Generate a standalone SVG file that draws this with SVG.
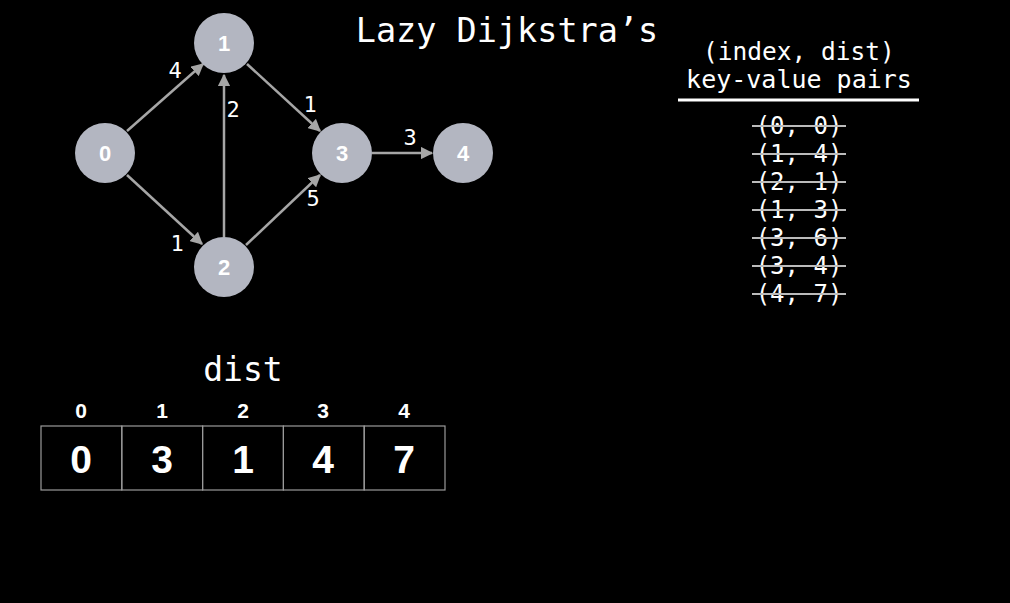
<svg xmlns="http://www.w3.org/2000/svg" width="1010" height="603" viewBox="0 0 1010 603">
<style>
.node{fill:#b3b6c1}
.nl{font-family:"Liberation Sans",Arial,sans-serif;font-weight:bold;font-size:22px;fill:#fff;text-anchor:middle}
.edge{stroke:#a6a6a6;stroke-width:2.5;fill:none;marker-end:url(#ah)}
.el{font-family:"DejaVu Sans Mono",monospace;font-size:22px;fill:#fff;text-anchor:middle}
.mono{font-family:"DejaVu Sans Mono",monospace;fill:#fff;text-anchor:middle}
.pair{font-family:"DejaVu Sans Mono",monospace;font-size:24px;fill:#fff;text-anchor:middle}
.strike{stroke:#bbb;stroke-width:2}
.cell{fill:none;stroke:#9a9a9a;stroke-width:1.2}
.idx{font-family:"Liberation Sans",Arial,sans-serif;font-weight:bold;font-size:21px;fill:#fff;text-anchor:middle}
.val{font-family:"Liberation Sans",Arial,sans-serif;font-weight:bold;font-size:39px;fill:#fff;text-anchor:middle}
</style>
<defs>
<marker id="ah" viewBox="0 0 10 10" refX="9" refY="5" markerWidth="5" markerHeight="5" orient="auto" markerUnits="strokeWidth">
<path d="M0,0 L10,5 L0,10 z" fill="#a6a6a6"/>
</marker>
</defs>
<rect width="1010" height="603" fill="#000"/>
<g id="connectors">
<line class="edge" x1="127" y1="131" x2="203" y2="64"/>
<line class="edge" x1="247" y1="64" x2="320" y2="131"/>
<line class="edge" x1="224" y1="237" x2="224" y2="75"/>
<line class="edge" x1="127" y1="175" x2="202" y2="244"/>
<line class="edge" x1="246" y1="245" x2="320" y2="175"/>
<line class="edge" x1="372" y1="153" x2="432" y2="153"/>
<text class="el" x="175" y="78">4</text>
<text class="el" x="310" y="112">1</text>
<text class="el" x="233" y="117">2</text>
<text class="el" x="177" y="251">1</text>
<text class="el" x="313" y="206">5</text>
<text class="el" x="410" y="145">3</text>
</g>
<g id="node0"><circle class="node" cx="105" cy="153" r="30"/><text class="nl" x="105" y="161">0</text></g>
<g id="node1"><circle class="node" cx="224" cy="43" r="30"/><text class="nl" x="224" y="51">1</text></g>
<g id="node2"><circle class="node" cx="224" cy="267" r="30"/><text class="nl" x="224" y="275">2</text></g>
<g id="node3"><circle class="node" cx="342" cy="153" r="30"/><text class="nl" x="342" y="161">3</text></g>
<g id="node4"><circle class="node" cx="463" cy="153" r="30"/><text class="nl" x="463" y="161">4</text></g>
<text class="mono" x="507" y="42" font-size="33.5">Lazy Dijkstra’s</text>
<g id="pairs">
<text class="mono" x="799" y="60" font-size="24.5">(index, dist)</text>
<text class="mono" x="799" y="88" font-size="25">key-value pairs</text>
<line x1="678" y1="100" x2="919" y2="100" stroke="#fff" stroke-width="3"/>
<text class="pair" x="799" y="134">(0, 0)</text>
<text class="pair" x="799" y="162">(1, 4)</text>
<text class="pair" x="799" y="190">(2, 1)</text>
<text class="pair" x="799" y="218">(1, 3)</text>
<text class="pair" x="799" y="246">(3, 6)</text>
<text class="pair" x="799" y="274">(3, 4)</text>
<text class="pair" x="799" y="302">(4, 7)</text>
<line class="strike" x1="752" y1="126" x2="846" y2="126"/>
<line class="strike" x1="752" y1="154" x2="846" y2="154"/>
<line class="strike" x1="752" y1="182" x2="846" y2="182"/>
<line class="strike" x1="752" y1="210" x2="846" y2="210"/>
<line class="strike" x1="752" y1="238" x2="846" y2="238"/>
<line class="strike" x1="752" y1="266" x2="846" y2="266"/>
<line class="strike" x1="752" y1="294" x2="846" y2="294"/>
</g>
<g id="dist">
<text class="mono" x="243" y="381" font-size="33">dist</text>
<text class="idx" x="81" y="418">0</text>
<text class="idx" x="162" y="418">1</text>
<text class="idx" x="243" y="418">2</text>
<text class="idx" x="323" y="418">3</text>
<text class="idx" x="404" y="418">4</text>
<rect class="cell" x="41" y="426" width="80.8" height="64"/>
<rect class="cell" x="121.8" y="426" width="80.8" height="64"/>
<rect class="cell" x="202.6" y="426" width="80.8" height="64"/>
<rect class="cell" x="283.4" y="426" width="80.8" height="64"/>
<rect class="cell" x="364.2" y="426" width="80.8" height="64"/>
<text class="val" x="81" y="473">0</text>
<text class="val" x="162" y="473">3</text>
<text class="val" x="243" y="473">1</text>
<text class="val" x="323" y="473">4</text>
<text class="val" x="404" y="473">7</text>
</g>
</svg>
